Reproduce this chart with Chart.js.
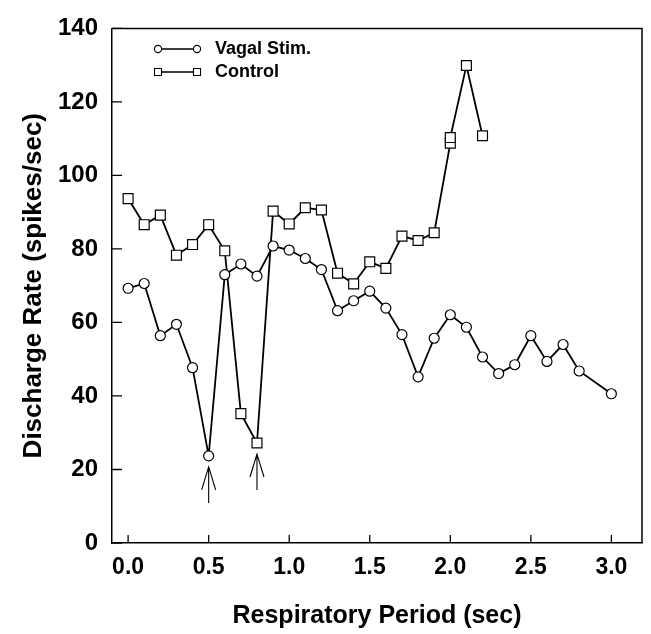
<!DOCTYPE html>
<html>
<head>
<meta charset="utf-8">
<script src="https://cdn.jsdelivr.net/npm/chart.js@4/dist/chart.umd.min.js"></script>
<style>
  html, body { margin: 0; padding: 0; background: #fff; }
  #wrap { width: 651px; height: 634px; }
</style>
</head>
<body>
<div id="wrap"><canvas id="chart"></canvas></div>
<script>
// respiratory period (sec) and discharge rate (spikes/sec)
var vagalPeriod = [0, 0.1, 0.2, 0.3, 0.4, 0.5, 0.6, 0.7, 0.8, 0.9, 1.0, 1.1, 1.2, 1.3, 1.4,
  1.5, 1.6, 1.7, 1.8, 1.9, 2.0, 2.1, 2.2, 2.3, 2.4, 2.5, 2.6, 2.7, 2.8, 3.0];
var vagalRate = [69.3, 70.6, 56.4, 59.5, 47.7, 23.7, 73, 75.9, 72.6, 80.8, 79.7, 77.4, 74.4, 63.2, 65.9,
  68.5, 63.9, 56.7, 45.2, 55.7, 62.1, 58.7, 50.6, 46.1, 48.5, 56.4, 49.4, 54, 46.8, 40.6];

var controlPeriod = [0, 0.1, 0.2, 0.3, 0.4, 0.5, 0.6, 0.7, 0.8, 0.9, 1.0, 1.1, 1.2, 1.3, 1.4,
  1.5, 1.6, 1.7, 1.8, 1.9, 2.0, 2.0, 2.1, 2.2];
var controlRate = [93.7, 86.6, 89.2, 78.3, 81.2, 86.6, 79.5, 35.2, 27.2, 90.3, 86.8, 91.2, 90.6, 73.4, 70.5,
  76.5, 74.7, 83.5, 82.3, 84.4, 108.8, 110.3, 129.9, 110.8];

// arrows below the two stimulated breaths
var arrowPeriod = [0.5, 0.8];
var arrowRate = [23.7, 27.2];

var xTicks = [0, 0.5, 1.0, 1.5, 2.0, 2.5, 3.0];
var yTicks = [0, 20, 40, 60, 80, 100, 120, 140];

var FONT = "'Liberation Sans', Arial, Helvetica, sans-serif";

function pairs(xs, ys) {
  var out = [];
  for (var i = 0; i < xs.length; i++) out.push({ x: xs[i], y: ys[i] });
  return out;
}

var framePlugin = {
  id: "frame",
  afterDraw: function (chart) {
    var ctx = chart.ctx, a = chart.chartArea;
    var xs = chart.scales.x, ys = chart.scales.y;
    ctx.save();
    ctx.strokeStyle = "#000";
    ctx.lineWidth = 1.5;
    ctx.beginPath();
    ctx.moveTo(a.left, a.top);
    ctx.lineTo(a.right, a.top);
    ctx.lineTo(a.right, a.bottom);
    ctx.stroke();

    // inward ticks
    ctx.lineWidth = 1.3;
    ctx.beginPath();
    xTicks.forEach(function (v) {
      var px = xs.getPixelForValue(v);
      ctx.moveTo(px, a.bottom);
      ctx.lineTo(px, a.bottom - 8);
    });
    yTicks.forEach(function (v) {
      var py = ys.getPixelForValue(v);
      ctx.moveTo(a.left, py);
      ctx.lineTo(a.left + 10, py);
    });
    ctx.stroke();

    // arrows
    ctx.lineWidth = 1.1;
    arrowPeriod.forEach(function (v, i) {
      var px = xs.getPixelForValue(v);
      var tip = ys.getPixelForValue(arrowRate[i]) + 11;
      ctx.beginPath();
      ctx.moveTo(px, tip);
      ctx.lineTo(px, tip + 36);
      ctx.moveTo(px - 7, tip + 23);
      ctx.lineTo(px, tip);
      ctx.lineTo(px + 7, tip + 23);
      ctx.stroke();
    });

    // legend
    var rows = [
      { label: "Vagal Stim.", style: "circle", y: 49 },
      { label: "Control", style: "rect", y: 72 }
    ];
    ctx.font = "bold 18px " + FONT;
    ctx.textBaseline = "middle";
    ctx.fillStyle = "#000";
    rows.forEach(function (r) {
      ctx.lineWidth = 1.3;
      ctx.beginPath();
      ctx.moveTo(158, r.y);
      ctx.lineTo(197, r.y);
      ctx.stroke();
      [158, 197].forEach(function (mx) {
        ctx.beginPath();
        if (r.style === "circle") {
          ctx.arc(mx, r.y, 3.6, 0, Math.PI * 2);
        } else {
          ctx.rect(mx - 3.5, r.y - 3.5, 7, 7);
        }
        ctx.fillStyle = "#fff";
        ctx.fill();
        ctx.lineWidth = 1.1;
        ctx.stroke();
      });
      ctx.fillStyle = "#000";
      ctx.fillText(r.label, 215, r.y);
    });
    ctx.restore();
  }
};

new Chart(document.getElementById("chart"), {
  type: "line",
  data: {
    datasets: [{
      label: "Vagal Stim.",
      data: pairs(vagalPeriod, vagalRate),
      borderColor: "#000",
      borderWidth: 1.8,
      pointStyle: "circle",
      pointRadius: 5,
      pointBorderWidth: 1.2,
      pointBackgroundColor: "#fff",
      pointBorderColor: "#000",
      tension: 0
    }, {
      label: "Control",
      data: pairs(controlPeriod, controlRate),
      borderColor: "#000",
      borderWidth: 1.8,
      pointStyle: "rect",
      pointRadius: 7,
      pointBorderWidth: 1.2,
      pointBackgroundColor: "#fff",
      pointBorderColor: "#000",
      tension: 0
    }]
  },
  options: {
    responsive: true,
    maintainAspectRatio: false,
    animation: false,
    layout: { padding: { top: 18, right: 9, left: 0, bottom: 0 } },
    plugins: {
      legend: { display: false },
      tooltip: { enabled: false }
    },
    scales: {
      x: {
        type: "linear",
        min: -0.1,
        max: 3.19,
        afterFit: function (s) { s.height = 91; },
        afterBuildTicks: function (s) {
          s.ticks = xTicks.map(function (v) { return { value: v }; });
        },
        grid: { display: false, drawTicks: false },
        border: { display: true, color: "#000", width: 1.5 },
        ticks: {
          color: "#000",
          padding: 11,
          font: { family: FONT, size: 23, weight: "bold", lineHeight: 1.2 },
          callback: function (v) { return Number(v).toFixed(1); }
        },
        title: {
          display: true,
          text: "Respiratory Period (sec)",
          color: "#000",
          padding: { top: 0, bottom: 3 },
          font: { family: FONT, size: 25, weight: "bold", lineHeight: 1.2 }
        }
      },
      y: {
        min: 0,
        max: 140,
        afterFit: function (s) { s.width = 112; },
        afterBuildTicks: function (s) {
          s.ticks = yTicks.map(function (v) { return { value: v }; });
        },
        grid: { display: false, drawTicks: false },
        border: { display: true, color: "#000", width: 1.5 },
        ticks: {
          color: "#000",
          padding: 14,
          font: { family: FONT, size: 24, weight: "bold", lineHeight: 1.2 }
        },
        title: {
          display: true,
          text: "Discharge Rate (spikes/sec)",
          color: "#000",
          padding: { top: 18, bottom: 0 },
          font: { family: FONT, size: 26, weight: "bold", lineHeight: 1.2 }
        }
      }
    }
  },
  plugins: [framePlugin]
});
</script>
</body>
</html>
